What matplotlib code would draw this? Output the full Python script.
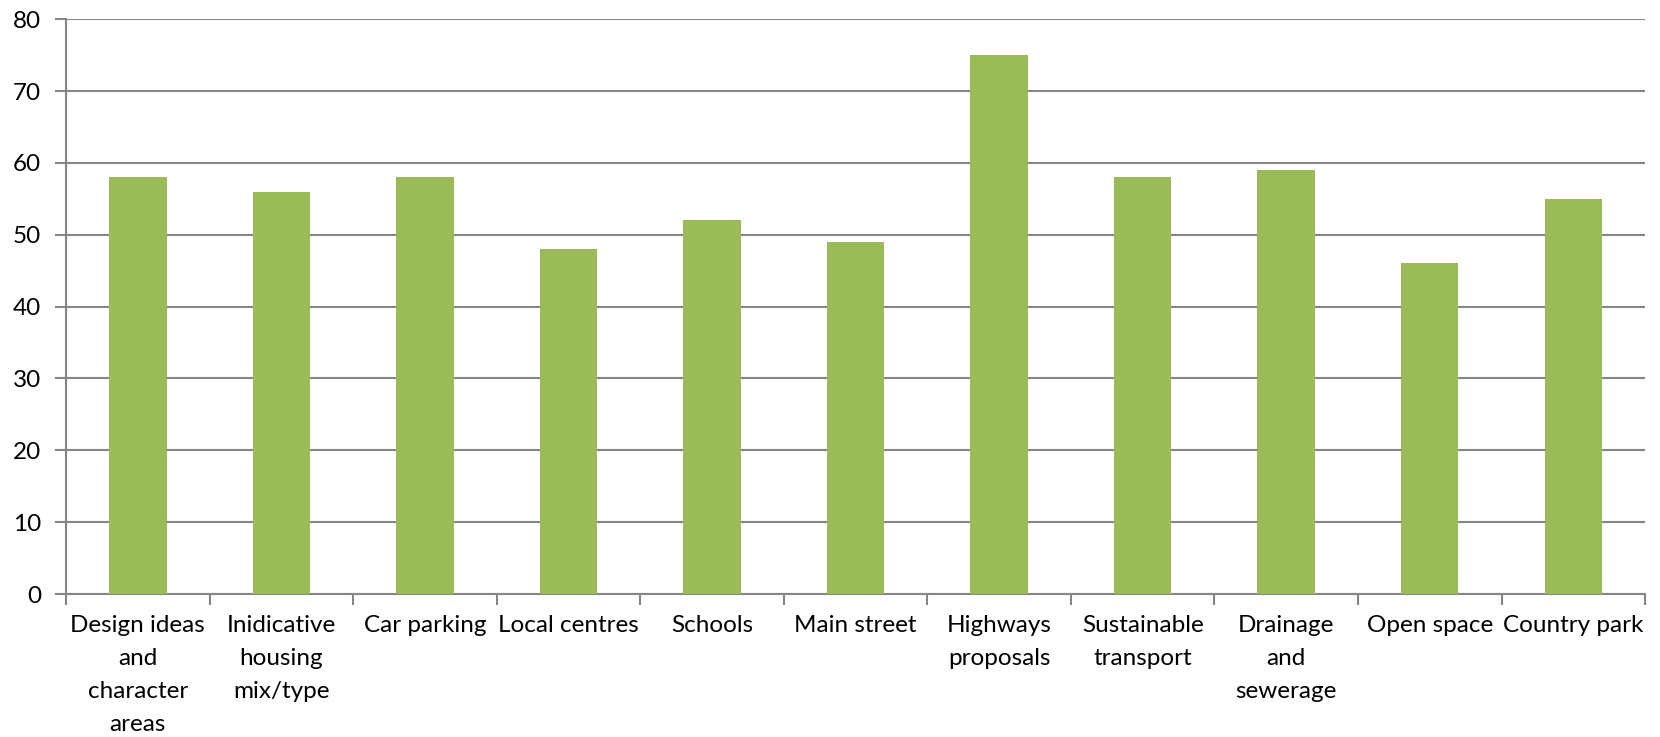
import matplotlib.pyplot as plt
import numpy as np

categories = [
    "Design ideas\nand\ncharacter\nareas",
    "Inidicative\nhousing\nmix/type",
    "Car parking",
    "Local centres",
    "Schools",
    "Main street",
    "Highways\nproposals",
    "Sustainable\ntransport",
    "Drainage\nand\nsewerage",
    "Open space",
    "Country park",
]
values = [58, 56, 58, 48, 52, 49, 75, 58, 59, 46, 55]
y_ticks = [0, 10, 20, 30, 40, 50, 60, 70, 80]

GRID = "#868686"
plt.rcParams["font.family"] = ["Lato", "DejaVu Sans"]

fig = plt.figure(figsize=(16.6, 7.37), dpi=100)
ax = fig.add_axes([0.0398, 0.194, 0.9512, 0.780])

x = np.arange(len(categories))
ax.bar(x, values, width=0.4, color="#9BBB59", zorder=3)

ax.set_xlim(-0.5, len(categories) - 0.5)
ax.set_ylim(0, 80)
ax.set_yticks(y_ticks)
ax.tick_params(axis="y", length=8, width=1.5, color=GRID, labelsize=17.5, pad=10)
ax.yaxis.grid(True, color=GRID, linewidth=1.5, zorder=0)

ax.set_xticks(x)
ax.set_xticklabels(categories, fontsize=17.5, linespacing=1.7, va="top")
ax.tick_params(axis="x", which="major", length=0, pad=15)
ax.set_xticks(np.arange(len(categories) + 1) - 0.5, minor=True)
ax.tick_params(axis="x", which="minor", length=8, width=1.5, color=GRID)

for side in ["top", "right"]:
    ax.spines[side].set_visible(False)
for side in ["left", "bottom"]:
    ax.spines[side].set_color(GRID)
    ax.spines[side].set_linewidth(1.5)

fig.savefig("out.png", dpi=100)
